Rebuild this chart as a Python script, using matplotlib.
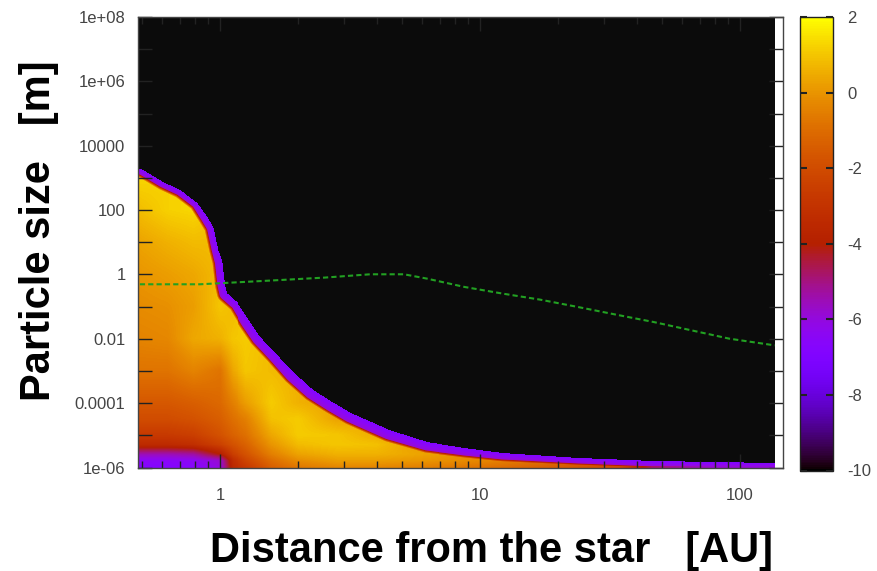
import numpy as np
import matplotlib
matplotlib.use("Agg")
import matplotlib.pyplot as plt
from matplotlib.ticker import FixedLocator, FixedFormatter, NullFormatter, NullLocator, LogLocator

plt.rcParams["font.family"] = ["Liberation Sans", "DejaVu Sans"]
plt.rcParams["axes.unicode_minus"] = False

# ---------------- data ----------------
x_ticks = [1, 10, 100]
x_tick_labels = ["1", "10", "100"]
y_ticks = [1e-6, 1e-5, 1e-4, 1e-3, 1e-2, 1e-1, 1, 10, 1e2, 1e3, 1e4, 1e5, 1e6, 1e7, 1e8]
y_tick_labels = ["1e-06", "", "0.0001", "", "0.01", "", "1", "", "100", "", "10000", "", "1e+06", "", "1e+08"]
cbar_ticks = [-10, -8, -6, -4, -2, 0, 2]

r_min, r_max = 0.484, 136.0          # radial extent of the computed grid [AU]
x_lim = (0.484, 146.2)
y_lim = (1e-6, 1e8)

# upper edge of the particle distribution (top of the violet fringe)
edge_r = [0.484, 0.506, 0.604, 0.702, 0.816, 0.891, 0.940, 0.982, 1.018, 1.042, 1.059, 1.171, 1.293,
          1.432, 1.636, 1.934, 2.287, 2.704, 3.19, 4.47, 6.24, 8.73, 12.2, 23.8, 46.5, 136.0]
edge_s = [2010, 1742, 736, 415, 164, 60, 29.3, 5.65, 2.39, 0.459, 0.259, 0.127, 0.0375,
          0.0111, 0.00352, 8.4e-4, 2.49e-4, 1.05e-4, 4.79e-5, 1.42e-5, 6.0e-6, 3.9e-6, 2.73e-6,
          1.91e-6, 1.54e-6, 1.33e-6]
edge_fringe = [5, 5, 5, 5, 5, 6, 6, 6, 7, 7, 7, 7, 8, 8, 8, 9, 9, 9, 9, 9, 8, 7, 6, 5, 5, 4]

# interior log10 values (colour scale) read on a coarse grid; nan = empty (black)
node_r = [0.48, 0.63, 0.79, 1.0, 1.12, 1.26, 1.58, 2.0, 2.82, 3.98, 6.31, 10.0, 20.0, 50.1, 141.0]
node_s = [1e-6, 1.58e-6, 2.51e-6, 5.01e-6, 1e-5, 3.16e-5, 1e-4, 1e-3, 1e-2, 1e-1, 1, 10, 100, 1e3, 3.16e3]
nan = np.nan
node_val = [
    [-6.8, -6.8, -6.7, -6.0, -3.5, -2.8, -1.4, -0.7, -0.3, -0.3, -0.5, -0.8, -1.5, -2.5, -4.0],
    [-6.5, -6.5, -6.4, -5.8, -3.3, -2.3, -1.0, -0.2, 0.2, 0.2, 0.0, -0.3, -1.0, -2.5, nan],
    [-5.5, -5.5, -5.3, -4.0, -2.5, -1.8, -0.5, 0.3, 0.6, 0.6, 0.3, -0.3, nan, nan, nan],
    [-3.4, -3.4, -3.2, -2.4, -1.8, -1.3, 0.0, 0.8, 1.0, 0.9, 0.0, nan, nan, nan, nan],
    [-2.7, -2.7, -2.5, -1.8, -1.3, -0.9, 0.4, 1.1, 1.0, 0.5, nan, nan, nan, nan, nan],
    [-2.0, -2.0, -1.8, -1.4, -0.9, -0.5, 0.9, 1.1, 0.3, nan, nan, nan, nan, nan, nan],
    [-1.6, -1.6, -1.4, -1.1, -0.5, 0.2, 1.1, 0.6, nan, nan, nan, nan, nan, nan, nan],
    [-0.8, -0.8, -0.4, -0.8, 0.4, 1.0, 0.8, nan, nan, nan, nan, nan, nan, nan, nan],
    [-0.4, -0.3, 0.4, 0.6, 1.0, 1.1, nan, nan, nan, nan, nan, nan, nan, nan, nan],
    [-0.2, -0.1, 0.2, 1.0, 0.8, nan, nan, nan, nan, nan, nan, nan, nan, nan, nan],
    [0.0, 0.2, 0.4, 0.8, nan, nan, nan, nan, nan, nan, nan, nan, nan, nan, nan],
    [0.3, 0.6, 0.8, nan, nan, nan, nan, nan, nan, nan, nan, nan, nan, nan, nan],
    [0.8, 1.2, 1.3, nan, nan, nan, nan, nan, nan, nan, nan, nan, nan, nan, nan],
    [1.3, nan, nan, nan, nan, nan, nan, nan, nan, nan, nan, nan, nan, nan, nan],
    [nan, nan, nan, nan, nan, nan, nan, nan, nan, nan, nan, nan, nan, nan, nan],
]

# green dotted curve
green_r = [0.492, 0.838, 1.636, 2.53, 3.78, 5.10, 6.24, 8.73, 12.2, 17.0, 23.8, 33.3, 46.5,
           65.0, 90.8, 135.8]
green_s = [0.494, 0.494, 0.658, 0.798, 1.01, 1.01, 0.743, 0.407, 0.254, 0.165, 0.0973, 0.0564,
           0.0332, 0.0183, 0.0101, 0.00625]

# ---------------- figure ----------------
W, H = 878, 571
fig = plt.figure(figsize=(W / 100, H / 100), dpi=100)
ax = fig.add_axes([138 / W, 1 - 467.5 / H, 645 / W, 450.5 / H])
cax = fig.add_axes([800 / W, 1 - 470.5 / H, 33 / W, 453.5 / H])
ax.set_xscale("log")
ax.set_yscale("log")
ax.set_xlim(*x_lim)
ax.set_ylim(*y_lim)
ax.set_facecolor("white")

# fine rendering grid (log space)
nx, ny = 640, 450
lr_e = np.linspace(np.log10(r_min), np.log10(r_max), nx + 1)
ls_e = np.linspace(np.log10(y_lim[0]), np.log10(y_lim[1]), ny + 1)
lr_c = 0.5 * (lr_e[1:] + lr_e[:-1])
ls_c = 0.5 * (ls_e[1:] + ls_e[:-1])

# interior field from the coarse table (nan above the edge filled upward for interpolation)
tab = np.array(node_val, dtype=float)
for i in range(tab.shape[1]):
    col = tab[:, i]
    last = col[~np.isnan(col)][-1]
    col[np.isnan(col)] = last
lnr, lns = np.log10(node_r), np.log10(node_s)
tmp = np.empty((ny, len(node_r)))
for i in range(len(node_r)):
    tmp[:, i] = np.interp(ls_c, lns, tab[:, i])
interior = np.empty((ny, nx))
for j in range(ny):
    interior[j] = np.interp(lr_c, lnr, tmp[j])

# inside mask
ler, les = np.log10(edge_r), np.log10(edge_s)
edge_at = np.interp(lr_c, ler, les)
LR, LS = np.meshgrid(lr_c, ls_c)
inside = LS < edge_at[None, :]

# distance (display pixels) to the edge for the violet fringe
lr_d = np.linspace(ler[0], ler[-1], 2500)
ls_d = np.interp(lr_d, ler, les)
w_d = np.interp(lr_d, ler, edge_fringe)
ep = ax.transData.transform(np.column_stack([10 ** lr_d, 10 ** ls_d]))
idx = np.nonzero(inside.ravel())[0]
cp = ax.transData.transform(np.column_stack([10 ** LR.ravel()[idx], 10 ** LS.ravel()[idx]]))
pdist = np.empty(len(idx))
wsel = np.empty(len(idx))
ch = 1500
for k in range(0, len(idx), ch):
    a = cp[k:k + ch]
    d2 = (a[:, 0:1] - ep[None, :, 0]) ** 2 + (a[:, 1:2] - ep[None, :, 1]) ** 2
    am = np.argmin(d2, axis=1)
    pdist[k:k + ch] = np.sqrt(d2[np.arange(len(a)), am])
    wsel[k:k + ch] = w_d[am]
ramp = np.where(pdist < wsel, -6.9 + 1.0 * pdist / wsel, -5.9 + 2.0 * (pdist - wsel))
Z = np.full(ny * nx, np.nan)
Z[idx] = np.minimum(interior.ravel()[idx], ramp)
Z = Z.reshape(ny, nx)

cmap = plt.get_cmap("gnuplot").copy()
cmap.set_bad("#0b0b0b")
cmap.set_under("#0b0b0b")
mesh = ax.pcolormesh(10 ** lr_e, 10 ** ls_e, np.ma.masked_invalid(Z), cmap=cmap,
                     vmin=-10, vmax=2, shading="flat", rasterized=True)

ax.plot(green_r, green_s, color="#22a022", lw=1.5, ls=(0, (2.5, 1.5)), zorder=3)

# ticks
ax.xaxis.set_major_locator(FixedLocator(x_ticks))
ax.xaxis.set_major_formatter(FixedFormatter(x_tick_labels))
ax.xaxis.set_minor_locator(LogLocator(base=10, subs=np.arange(2, 10)))
ax.xaxis.set_minor_formatter(NullFormatter())
ax.yaxis.set_major_locator(FixedLocator(y_ticks))
ax.yaxis.set_major_formatter(FixedFormatter(y_tick_labels))
ax.yaxis.set_minor_locator(NullLocator())
ax.tick_params(which="both", direction="in", top=True, right=True, color="#222222",
               labelcolor="#444444", labelsize=12)
ax.tick_params(which="major", length=10, width=1)
ax.tick_params(which="minor", length=5, width=1)
ax.tick_params(axis="x", pad=15)
ax.tick_params(axis="y", pad=9)
for s in ax.spines.values():
    s.set_color("#444444")
    s.set_linewidth(1)

cb = fig.colorbar(mesh, cax=cax, ticks=cbar_ticks)
cb.outline.set_linewidth(1)
cb.outline.set_edgecolor("#222222")
cax.tick_params(direction="in", left=True, right=True, length=5, width=1.5, color="#222222",
                labelsize=12, labelcolor="#444444", pad=10)

fig.text(492 / W, 1 - 562 / H, "Distance from the star   [AU]", ha="center", va="baseline",
         fontsize=30, fontweight="bold")
fig.text(39 / W, 1 - 231 / H, "Particle size   [m]", ha="center", va="center", rotation=90,
         fontsize=30, fontweight="bold")

fig.savefig("out.png", dpi=100)
